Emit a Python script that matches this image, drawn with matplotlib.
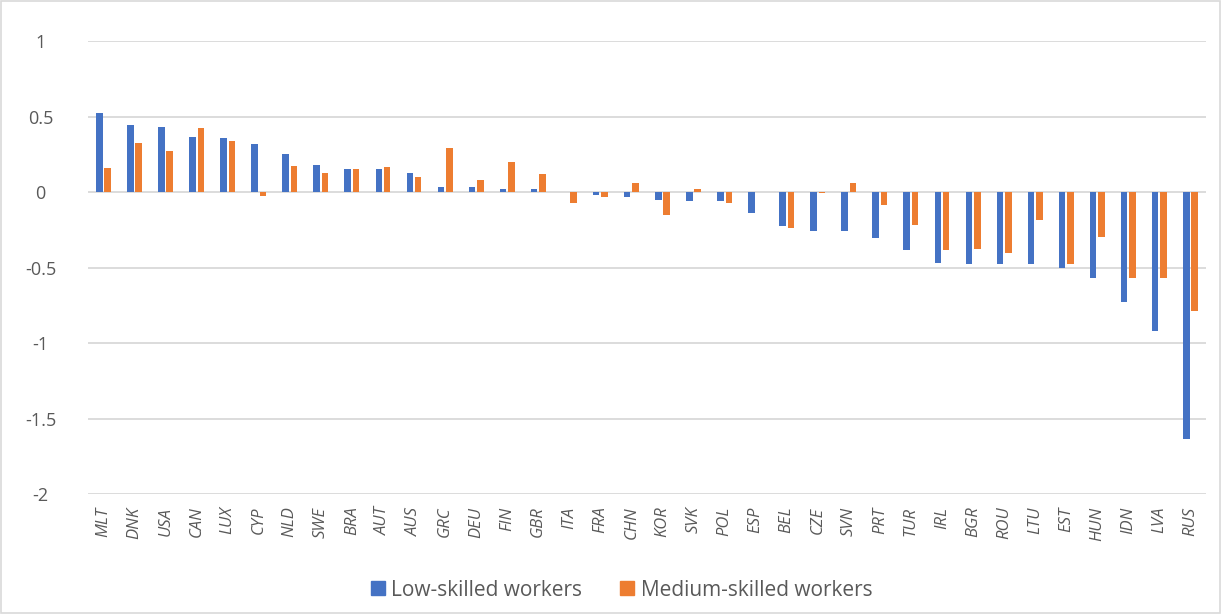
import numpy as np
import matplotlib.pyplot as plt
from matplotlib.lines import Line2D
from matplotlib.patches import Rectangle

plt.rcParams['font.family'] = ['Open Sans', 'DejaVu Sans']

countries = ['MLT', 'DNK', 'USA', 'CAN', 'LUX', 'CYP', 'NLD', 'SWE', 'BRA', 'AUT',
             'AUS', 'GRC', 'DEU', 'FIN', 'GBR', 'ITA', 'FRA', 'CHN', 'KOR', 'SVK',
             'POL', 'ESP', 'BEL', 'CZE', 'SVN', 'PRT', 'TUR', 'IRL', 'BGR', 'ROU',
             'LTU', 'EST', 'HUN', 'IDN', 'LVA', 'RUS']
low_skilled = [0.525, 0.447, 0.431, 0.365, 0.358, 0.318, 0.253, 0.178, 0.153, 0.151,
               0.127, 0.035, 0.030, 0.023, 0.018, 0.0, -0.022, -0.035, -0.055, -0.060,
               -0.062, -0.140, -0.224, -0.255, -0.256, -0.307, -0.387, -0.467, -0.476, -0.476,
               -0.480, -0.500, -0.569, -0.727, -0.918, -1.638]
medium_skilled = [0.160, 0.327, 0.271, 0.427, 0.340, -0.025, 0.173, 0.125, 0.153, 0.165,
                  0.100, 0.293, 0.078, 0.196, 0.120, -0.071, -0.030, 0.058, -0.149, 0.018,
                  -0.071, 0.0, -0.235, -0.005, 0.060, -0.083, -0.216, -0.383, -0.376, -0.403,
                  -0.187, -0.476, -0.296, -0.567, -0.567, -0.789]
series_names = ['Low-skilled workers', 'Medium-skilled workers']

blue = '#4472C4'
orange = '#ED7D31'
grey_text = '#595959'
grid_col = '#d9d9d9'

fig = plt.figure(figsize=(12.21, 6.14), dpi=100)
ax = fig.add_axes([0.072, 0.1954, 0.9157, 0.7378])

x = np.arange(len(countries))
w = 0.21
ax.bar(x - 0.135, low_skilled, width=w, color=blue, zorder=3)
ax.bar(x + 0.135, medium_skilled, width=w, color=orange, zorder=3)

ax.set_xlim(-0.5, len(countries) - 0.5)
ax.set_ylim(-2, 1)
yt = [-2, -1.5, -1, -0.5, 0, 0.5, 1]
ax.set_yticks(yt)
ax.set_yticklabels(['-2', '-1.5', '-1', '-0.5', '0', '0.5', '1'], ha='center')
ax.grid(axis='y', color=grid_col, linewidth=1.3, zorder=0)
for s in ax.spines.values():
    s.set_visible(False)
ax.tick_params(axis='y', length=0, pad=34, labelsize=13, labelcolor=grey_text)
ax.set_xticks(x)
ax.set_xticklabels(countries, rotation=90, fontstyle='italic', fontsize=12, color=grey_text)
ax.tick_params(axis='x', length=0, pad=9)

# square swatches for the legend
handles = [Line2D([], [], marker='s', markersize=10, linestyle='none', color=c)
           for c in (blue, orange)]
leg = fig.legend(handles, series_names, loc='center', bbox_to_anchor=(0.509, 0.039),
                 ncol=2, frameon=False, fontsize=15, handlelength=0.7,
                 columnspacing=1.8, handletextpad=0.3)
for t in leg.get_texts():
    t.set_color(grey_text)

fig.patches.append(Rectangle((0.001, 0.001), 0.998, 0.997, transform=fig.transFigure,
                             fill=False, edgecolor=grid_col, linewidth=1.2))

fig.savefig('out.png', dpi=100)
